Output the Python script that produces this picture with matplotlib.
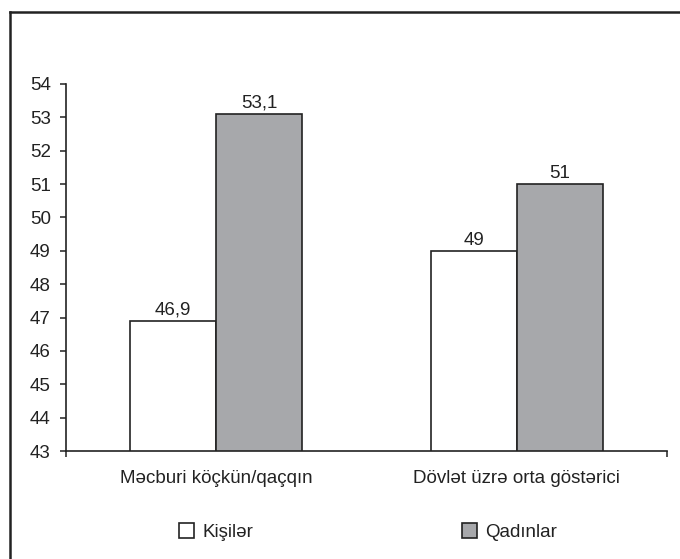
import matplotlib
matplotlib.use("Agg")
import matplotlib.pyplot as plt
from matplotlib.lines import Line2D
import numpy as np

categories = ["Məcburi köçkün/qaçqın", "Dövlət üzrə orta göstərici"]
series_names = ["Kişilər", "Qadınlar"]
kisiler = [46.9, 49.0]
qadinlar = [53.1, 51.0]
yticks = list(range(43, 55))

plt.rcParams['font.family'] = ['Liberation Sans', 'DejaVu Sans']
FS = 13.5
TC = '#222222'

fig = plt.figure(figsize=(6.8, 5.59), dpi=100)
ax = fig.add_axes([66/680, 1-451/559, (667-66)/680, (451-84)/559])

x = np.arange(len(categories))
w = 0.286
b1 = ax.bar(x - w/2, kisiler, w, color='white', edgecolor=TC, linewidth=1.2, label=series_names[0])
b2 = ax.bar(x + w/2, qadinlar, w, color='#a7a8ab', edgecolor=TC, linewidth=1.2, label=series_names[1])

fmt = lambda v: f"{v:g}".replace('.', ',')
ax.bar_label(b1, labels=[fmt(v) for v in kisiler], padding=1.5, fontsize=FS, color=TC)
ax.bar_label(b2, labels=[fmt(v) for v in qadinlar], padding=1.5, fontsize=FS, color=TC)

ax.set_ylim(43, 54)
ax.set_xlim(-0.5, 1.5)
ax.set_yticks(yticks)
ax.set_yticklabels([str(t) for t in yticks], fontsize=FS, color=TC)
ax.set_xticks(x)
ax.set_xticklabels(categories, fontsize=FS, color=TC)
ax.tick_params(axis='x', length=0, pad=14)
ax.tick_params(axis='y', length=4, width=1.1, color=TC, pad=7)
ax.set_xticks([-0.5, 1.5], minor=True)
ax.tick_params(axis='x', which='minor', length=4, width=1.1, color=TC)

for s in ['top', 'right']:
    ax.spines[s].set_visible(False)
for s in ['left', 'bottom']:
    ax.spines[s].set_linewidth(1.2)
    ax.spines[s].set_color(TC)

leg = fig.legend(handles=[b1, b2], labels=series_names, loc='center', bbox_to_anchor=(368/680, 1-532/559),
                 ncol=2, frameon=False, fontsize=FS, handlelength=0.8, handleheight=0.8,
                 columnspacing=11.1, handletextpad=0.45)
for t in leg.get_texts():
    t.set_color(TC)

fig.add_artist(Line2D([10/680, 1.0], [1-12/559, 1-12/559], transform=fig.transFigure, color=TC, linewidth=1.8))
fig.add_artist(Line2D([10/680, 10/680], [0, 1-12/559], transform=fig.transFigure, color=TC, linewidth=1.8))

fig.savefig("out.png", dpi=100)
